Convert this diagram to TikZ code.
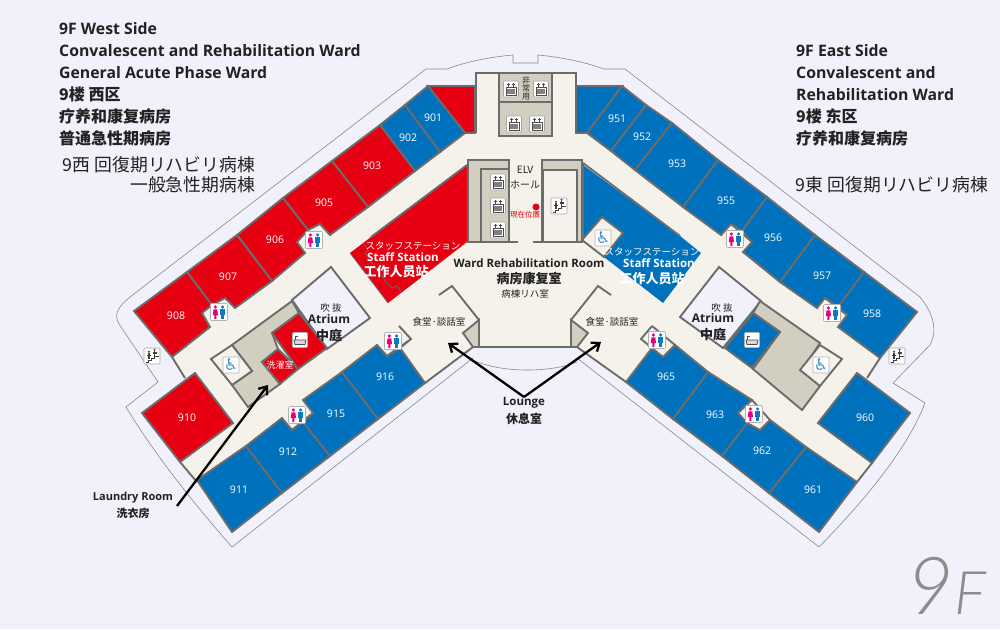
\documentclass[tikz,border=0pt]{standalone}
\usepackage{fontspec}
\setmainfont{Open Sans}
\newfontfamily\cjksc{Noto Sans CJK SC}
\newfontfamily\cjkjp{Noto Sans CJK JP}
\newfontfamily\dejavu{DejaVu Sans}
\newfontfamily\logofont{Lato Light}
\usepackage{tikz}
\usetikzlibrary{arrows.meta}
\usetikzlibrary{positioning}
\newcommand{\fsz}[1]{\fontsize{#1}{#1}\selectfont}
\definecolor{paper}{HTML}{F0F1FA}
\definecolor{floorc}{HTML}{F4F2EA}
\definecolor{wallc}{HTML}{6C6C6C}
\definecolor{westred}{HTML}{E60012}
\definecolor{eastblue}{HTML}{0071BC}
\definecolor{beige}{HTML}{D3CFC0}
\definecolor{inkc}{HTML}{222222}
\definecolor{womanc}{HTML}{E4007F}
\definecolor{manc}{HTML}{0F78C0}
\tikzset{
    wall/.style={draw=wallc,line width=1.9pt,line join=miter},
    redroom/.style={wall,fill=westred},
    blueroom/.style={wall,fill=eastblue},
    core/.style={wall,fill=beige},
    plainroom/.style={wall,fill=floorc},
    void/.style={wall,fill=paper},
    outline/.style={draw=wallc!80,line width=0.6pt},
    roomnum/.style={text=white,font=\fsz{10.5}},
    headline/.style={anchor=west,text=inkc,inner sep=0pt,font=\fsz{15.8}\bfseries},
    cnhead/.style={headline,font=\cjksc\fsz{16}\bfseries},
    jphead/.style={anchor=east,text=inkc,inner sep=0pt,font=\cjkjp\fsz{17.8}},
    smalljp/.style={text=inkc,inner sep=0pt,font=\cjkjp\fsz{9.5}},
    boldlabel/.style={text=inkc,inner sep=0pt,font=\fsz{11.5}\bfseries},
    boldcn/.style={text=inkc,inner sep=0pt,font=\cjksc\fsz{13}\bfseries},
    whitejp/.style={text=white,inner sep=0pt,font=\cjkjp\fsz{9.5}},
    whitelat/.style={text=white,inner sep=0pt,font=\fsz{11.5}\bfseries},
    whitecn/.style={text=white,inner sep=0pt,font=\cjksc\fsz{13}\bfseries},
    pointer/.style={-{Straight Barb[length=7pt,width=11pt]},line width=2.3pt,black},
    signbox/.style={fill=white,draw=black!30,line width=0.6pt,rounded corners=1pt,minimum size=16pt,inner sep=0pt},
    wheelsign/.style={signbox,text=manc!80,font=\dejavu\fsz{16}},
    wcsign/.pic={
        \draw[fill=white,draw=black!30,line width=0.6pt,rounded corners=1pt] (-8.5,-8.5) rectangle (8.5,8.5);
        \fill[womanc] (-3.6,-5) circle (1.8);
        \fill[womanc] (-5.5,-2.6) -- (-1.7,-2.6) -- (-1,3) -- (-2.6,3) -- (-2.6,7) -- (-4.6,7) -- (-4.6,3) -- (-6.2,3) -- cycle;
        \fill[manc] (3.6,-5) circle (1.8);
        \fill[manc] (1.4,-2.6) rectangle (5.8,2.5);
        \fill[manc] (2,2.5) rectangle (5.2,7);
    },
    liftsign/.pic={
        \draw[fill=white,draw=black!35,line width=0.6pt,rounded corners=1pt] (-7.5,-8) rectangle (7.5,8);
        \draw[black!70,line width=0.6pt] (-5,-2) rectangle (5,6);
        \fill[black!50] (-3.6,0) rectangle (3.6,4.6);
        \draw[black!70,line width=0.6pt] (-2.5,-2.5) -- (-2.5,-6) (2.5,-2.5) -- (2.5,-6) (-3.8,-4.6) -- (-1.2,-4.6) (1.2,-4.6) -- (3.8,-4.6);
    },
    stairsign/.pic={
        \draw[fill=white,draw=black!35,line width=0.6pt,rounded corners=1pt] (-8,-8) rectangle (8,8);
        \draw[black!75,line width=0.9pt] (-6.5,6) -- (-3.5,6) -- (-3.5,4) -- (-0.5,4) -- (-0.5,2) -- (2.5,2) -- (2.5,0) -- (6.5,0);
        \draw[black!75,line width=1.1pt] (-3,3) -- (-3,-3) (-5,-0.5) -- (-1,-0.5) (2.5,-0.5) -- (2.5,-5) (0.5,-3) -- (4.5,-3);
        \fill[black!75] (-3,-4.3) circle (1.1) (2.5,-6.2) circle (1.1);
    },
    bathsign/.pic={
        \draw[fill=white,draw=black!30,line width=0.6pt,rounded corners=1pt] (-7.5,-7.5) rectangle (7.5,7.5);
        \draw[black!70,line width=0.8pt,fill=black!15] (-6,0) -- (6,0) -- (5,4.5) -- (-5,4.5) -- cycle;
        \draw[black!70,line width=0.8pt] (-4.5,0) -- (-4.5,-4) -- (-2.5,-4);
    }
}
\begin{document}
\begin{tikzpicture}[x=1pt,y=-1pt]
    \useasboundingbox (0,0) rectangle (1000,629);
    \fill[paper] (0,0) rectangle (1000,629);

    % thin line round the building
    \draw[outline] (426,69) -- (130,297) .. controls (119,306) and (113,314) .. (119,324)
        -- (158,382) -- (126,407) .. controls (155,455) and (195,505) .. (232,547)
        -- (473,358);
    \draw[outline] (577,358) -- (819,547) .. controls (855,510) and (905,455) .. (925,403)
        -- (893,383) -- (930,345) .. controls (938,330) and (933,313) .. (920,297) -- (625,69)
        -- (604,69) .. controls (585,62) and (560,57) .. (538,55) -- (538,63) -- (513,63) -- (513,55)
        .. controls (490,57) and (465,62) .. (447,69) -- (426,69);
    \draw[outline] (473,360) .. controls (500,373) and (550,373) .. (577,362);

    % floor
    \fill[floorc] (476,73) -- (576,73) -- (576,86) -- (623,86) -- (917,312) -- (880,358) -- (867,381)
        -- (872,463) -- (857,482) -- (819,532) -- (626,382) -- (577,347) -- (473,347) -- (425,383)
        -- (232,532) -- (197,482) -- (180,462) -- (186,381) -- (172,357) -- (134,311) -- (428,86)
        -- (476,86) -- cycle;

    % centre
    \draw[wall] (476,133) -- (476,73) -- (576,73) -- (576,133);
    \draw[core] (499,73) rectangle (552,136);
    \draw[wall] (499,102) -- (552,102);
    \draw[core] (468,160) rectangle (509,242);
    \draw[wall] (509,169) -- (481,169) -- (481,242);
    \draw[core] (542,160) rectangle (582,242);
    \draw[plainroom] (543,170) rectangle (577,242);
    \draw[wall] (467,242) -- (518,242) (533,242) -- (582,242);
    \draw[core] (479,320) -- (463,333) -- (473,347) -- (479,347) -- cycle;
    \draw[core] (571,320) -- (588,333) -- (577,347) -- (571,347) -- cycle;
    \draw[wall] (439,295) -- (452,286) -- (479,320) -- (479,347);
    \draw[wall] (611,295) -- (598,286) -- (571,320) -- (571,347);
    \draw[wall] (425,383) -- (473,347) -- (577,347) -- (626,382);

    % west wing
    \draw[redroom] (428,86) -- (475,86) -- (475,133) -- (465,133) -- cycle;
    \draw[wall,fill=eastblue] (428,86) -- (465,133) -- (440,152) -- (405,105) -- cycle;
    \draw[wall,fill=eastblue] (405,105) -- (440,152) -- (415,171) -- (380,125) -- cycle;
    \draw[redroom] (380,125) -- (415,171) -- (368,207) -- (332,161) -- cycle;
    \draw[redroom] (332,161) -- (368,207) -- (330,235) -- (320,224) -- (308,230) -- (283,198) -- cycle;
    \draw[redroom] (283,198) -- (308,230) -- (297,242) -- (305,253) -- (272,281) -- (237,235) -- cycle;
    \draw[redroom] (237,235) -- (272,281) -- (235,308) -- (225,298) -- (212,305) -- (187,272) -- cycle;
    \draw[redroom] (134,311) -- (187,272) -- (212,305) -- (202,313) -- (210,327) -- (172,357) -- cycle;
    \draw[redroom] (142,413) -- (195,373) -- (233,423) -- (180,462) -- cycle;
    \draw[wall] (172,357) -- (185,378) (180,462) -- (197,482);
    \draw[blueroom] (197,480) -- (246,446) -- (282,493) -- (232,532) -- cycle;
    \draw[blueroom] (246,446) -- (282,418) -- (292,430) -- (303,422) -- (330,456) -- (282,493) -- cycle;
    \draw[blueroom] (303,400) -- (342,372) -- (378,419) -- (330,456) -- (303,422) -- (313,413) -- cycle;
    \draw[blueroom] (342,372) -- (377,345) -- (387,356) -- (400,348) -- (425,383) -- (378,419) -- cycle;
    \draw[wall] (292,430) -- (313,413) (387,356) -- (411,339) -- (399,326) (400,348) -- (411,339);

    % west atrium, laundry and staff room
    \draw[void] (331,267) -- (370,318) -- (327,349) -- (292,300) -- cycle;
    \draw[core] (292,301) -- (299,313) -- (272,333) -- (278,349) -- (262,362) -- (280,384) -- (248,407)
        -- (232,385) -- (252,371) -- (232,345) -- cycle;
    \draw[redroom] (299,313) -- (327,348) -- (298,369) -- (272,333) -- cycle;
    \draw[redroom] (278,349) -- (298,369) -- (280,384) -- (262,362) -- cycle;
    \draw[plainroom] (232,345) -- (252,371) -- (232,385) -- (211,359) -- cycle;
    \fill[westred] (467,165) -- (467,242) -- (388,303) -- (350,253) -- (371,237) -- cycle;
    \draw[wall] (371,237) -- (467,165);
    \draw[wallc,line width=0.7pt] (350,253) -- (388,303);
    \draw[wallc,line width=0.7pt] (363,243) -- (368,250) -- (365,253) -- (387,283) -- (392,288) -- (397,286) -- (402,293);

    % east wing
    \draw[blueroom] (576,86) -- (622,86) -- (587,133) -- (576,133) -- cycle;
    \draw[blueroom] (622,86) -- (646,105) -- (611,151) -- (587,133) -- cycle;
    \draw[blueroom] (646,105) -- (672,123) -- (635,170) -- (611,151) -- cycle;
    \draw[blueroom] (672,123) -- (718,160) -- (683,207) -- (635,170) -- cycle;
    \draw[blueroom] (718,160) -- (767,197) -- (742,231) -- (731,224) -- (721,235) -- (683,207) -- cycle;
    \draw[blueroom] (767,197) -- (815,235) -- (780,282) -- (743,252) -- (752,242) -- (742,231) -- cycle;
    \draw[blueroom] (815,235) -- (864,272) -- (838,307) -- (825,298) -- (817,308) -- (780,282) -- cycle;
    \draw[blueroom] (864,272) -- (917,312) -- (880,358) -- (838,327) -- (847,315) -- (838,307) -- cycle;
    \draw[wall] (731,224) -- (752,242) (825,298) -- (847,315);
    \draw[wall] (880,358) -- (867,378) (872,463) -- (857,482);
    \draw[blueroom] (857,373) -- (910,413) -- (872,463) -- (818,423) -- cycle;
    \draw[blueroom] (857,482) -- (819,532) -- (769,493) -- (806,447) -- cycle;
    \draw[blueroom] (806,447) -- (769,493) -- (722,456) -- (747,423) -- (760,430) -- (770,420) -- cycle;
    \draw[blueroom] (708,372) -- (752,400) -- (738,413) -- (747,423) -- (722,456) -- (673,419) -- cycle;
    \draw[blueroom] (626,382) -- (652,348) -- (663,357) -- (675,345) -- (708,372) -- (673,419) -- cycle;
    \draw[wall] (652,326) -- (641,339) -- (652,348) (652,326) -- (675,345);
    \draw[wall] (752,400) -- (770,420);

    % east atrium, bath and staff room
    \draw[void] (680,317) -- (719,267) -- (761,301) -- (723,348) -- cycle;
    \draw[core] (760,301) -- (820,343) -- (802,370) -- (820,386) -- (802,410) -- (753,369) -- (780,332) -- (753,313) -- cycle;
    \draw[blueroom] (753,313) -- (780,332) -- (752,368) -- (725,348) -- cycle;
    \draw[plainroom] (820,345) -- (842,359) -- (820,386) -- (800,370) -- cycle;
    \fill[eastblue] (583,165) -- (680,236) -- (701,253) -- (663,303) -- (604,257) -- (623,233) -- (602,217) -- (583,240) -- cycle;
    \draw[wall] (583,163) -- (680,236);
    \draw[wall] (583,163) -- (583,242);
    \draw[plainroom] (602,217) -- (623,233) -- (604,257) -- (582,240) -- cycle;
    \draw[eastblue!70!black,line width=0.7pt] (663,283) -- (669,278) -- (676,285) -- (685,275);

    % signs
    \foreach \sx/\sy in {314/240,219/312,393/341,297/415,735/239,832/313,657/340,754/414}
        \pic at (\sx,\sy) {wcsign};
    \foreach \sx/\sy in {511/89,541/89,514/124,537/124,498/182,498/206,498/230}
        \pic at (\sx,\sy) {liftsign};
    \foreach \sx/\sy in {559/206,152/356,897/356}
        \pic at (\sx,\sy) {stairsign};
    \foreach \sx/\sy in {300/340,752/340}
        \pic at (\sx,\sy) {bathsign};
    \foreach \wname/\sx/\sy in {wheelW/231/365,wheelM/603/238,wheelE/821/365}
        \node[wheelsign] (\wname) at (\sx,\sy) {\symbol{"267F}};

    % room numbers
    \foreach \num/\sx/\sy in {901/433/118,902/408/138,903/372/166,905/324/203,906/275/240,907/228/277,
            908/176/316,910/187/418,911/239/490,912/288/452,915/336/414,916/385/377,
            951/617/119,952/642/137,953/677/164,955/726/201,956/773/238,957/822/276,958/872/314,
            960/865/418,961/813/490,962/762/451,963/715/415,965/666/377}
        \node[roomnum] (room\num) at (\sx,\sy) {\num};

    % headings
    \node[headline] (westa) at (59,28.7) {9F West Side};
    \node[headline] (westb) at (59,50.7) {Convalescent and Rehabilitation Ward};
    \node[headline] (westc) at (59,72.7) {General Acute Phase Ward};
    \node[cnhead] (westd) at (59,94) {9楼 西区};
    \node[cnhead] (weste) at (59,116) {疗养和康复病房};
    \node[cnhead] (westf) at (59,138) {普通急性期病房};
    \node[jphead] (westg) at (255,165) {9西 回復期リハビリ病棟};
    \node[jphead] (westh) at (255,185) {一般急性期病棟};
    \node[headline] (easta) at (796,50.7) {9F East Side};
    \node[headline] (eastb) at (796,72.7) {Convalescent and};
    \node[headline] (eastc) at (796,94.7) {Rehabilitation Ward};
    \node[cnhead] (eastd) at (796,116) {9楼 东区};
    \node[cnhead] (easte) at (796,138) {疗养和康复病房};
    \node[jphead] (eastg) at (988,185) {9東 回復期リハビリ病棟};

    % room names
    \node[whitejp] (staffjpW) at (413,246) {スタッフステーション};
    \node[whitelat] (stafflatW) at (403,257) {Staff Station};
    \node[whitecn] (staffcnW) at (396,272) {工作人员站};
    \node[whitejp] (staffjpE) at (652,252) {スタッフステーション};
    \node[whitelat] (stafflatE) at (659,263) {Staff Station};
    \node[whitecn] (staffcnE) at (652,279) {工作人员站};
    \node[boldlabel] (wardlat) at (529,263) {Ward Rehabilitation Room};
    \node[boldcn] (wardcn) at (529,279) {病房康复室};
    \node[smalljp] (wardjp) at (525,294) {病棟リハ室};
    \node[smalljp,font=\cjkjp\fsz{10}] (elv) at (525,170) {ELV};
    \node[smalljp,font=\cjkjp\fsz{10}] (elvhall) at (525,185) {ホール};
    \node[smalljp,text=westred,font=\cjkjp\fsz{7.5}] (here) at (525,215) {現在位置};
    \fill[westred] (536,207) circle (3.5);
    \node[smalljp,font=\cjkjp\fsz{8},align=center] (exitlift) at (526,88) {非\\常\\用};
    \node[smalljp] (voidW) at (331,308) {吹 抜};
    \node[boldlabel,font=\fsz{12}\bfseries] (atriumW) at (329,319) {Atrium};
    \node[boldcn] (yardW) at (329,335) {中庭};
    \node[smalljp] (voidE) at (722,308) {吹 抜};
    \node[boldlabel,font=\fsz{12}\bfseries] (atriumE) at (713,318) {Atrium};
    \node[boldcn] (yardE) at (713,334) {中庭};
    \node[smalljp] (diningW) at (439,322) {食堂·談話室};
    \node[smalljp] (diningE) at (612,322) {食堂·談話室};
    \node[whitejp,font=\cjkjp\fsz{9}] (washjp) at (280,365) {洗濯室};
    \node[boldlabel] (lounge) at (524,403) {Lounge};
    \node[boldcn,font=\cjksc\fsz{12}\bfseries,below=4pt of lounge] (loungecn) {休息室};
    \node[boldlabel,font=\fsz{11}\bfseries] (laundry) at (133,498) {Laundry Room};
    \node[boldcn,font=\cjksc\fsz{11}\bfseries,below=4pt of laundry] (laundrycn) {洗衣房};
    \node[text=black!45,inner sep=0pt,anchor=base,font=\logofont\itshape\fsz{80}] (floorno) at (947,614) {9{\fsz{60}F}};

    % pointers
    \coordinate (apex) at (524,397);
    \coordinate (tail) at (177,506);
    \coordinate (tipW) at (448,343);
    \coordinate (tipE) at (601,342);
    \coordinate (tipL) at (268,385);
    \draw[pointer] (apex) -- (tipW);
    \draw[pointer] (apex) -- (tipE);
    \draw[pointer] (tail) -- (tipL);
\end{tikzpicture}
\end{document}
